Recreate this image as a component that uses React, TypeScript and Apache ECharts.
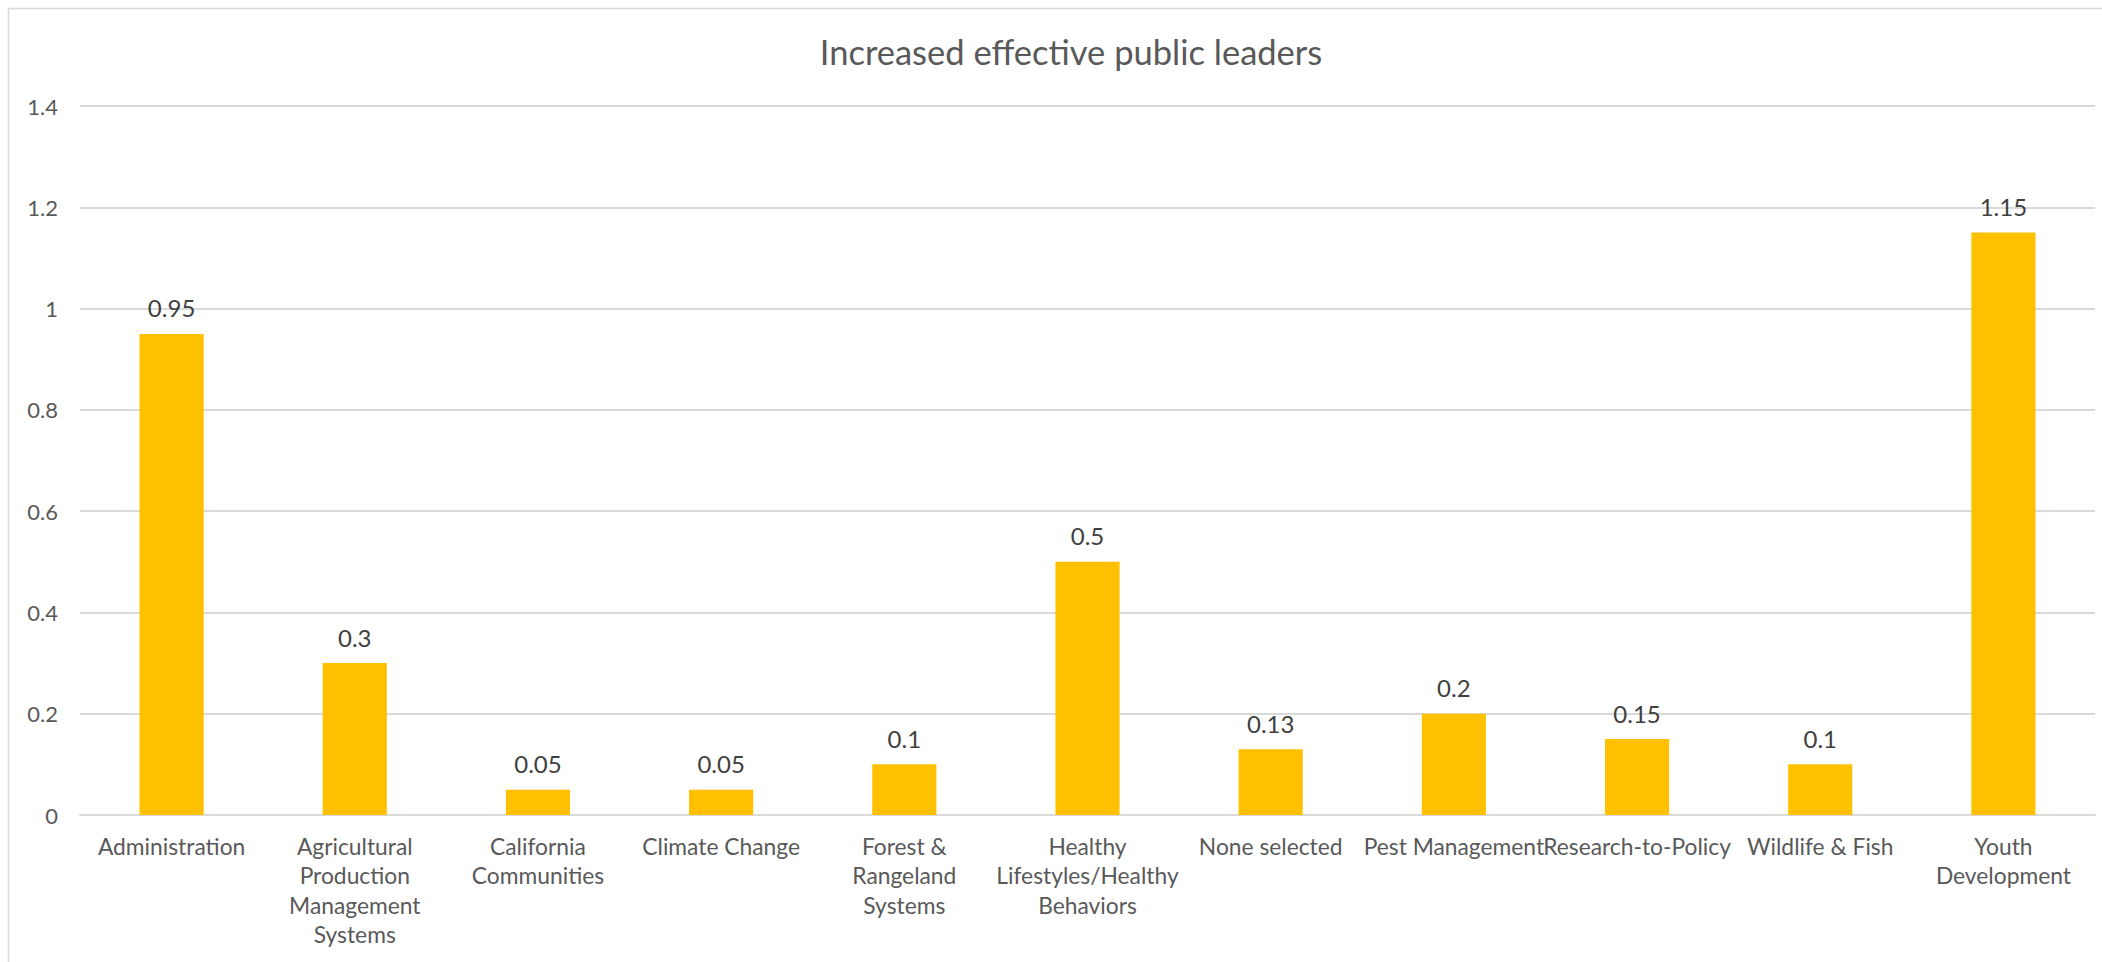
import React, { useEffect, useRef } from "react";
import * as echarts from "echarts";

const title = "Increased effective public leaders";
const categories = [
  "Administration",
  "Agricultural\nProduction\nManagement\nSystems",
  "California\nCommunities",
  "Climate Change",
  "Forest &\nRangeland\nSystems",
  "Healthy\nLifestyles/Healthy\nBehaviors",
  "None selected",
  "Pest Management",
  "Research-to-Policy",
  "Wildlife & Fish",
  "Youth\nDevelopment",
];
const values = [0.95, 0.3, 0.05, 0.05, 0.1, 0.5, 0.13, 0.2, 0.15, 0.1, 1.15];
const yMin = 0;
const yMax = 1.4;
const yInterval = 0.2;

const FONT = "Lato, 'Liberation Sans', sans-serif";

export default function App() {
  const ref = useRef<HTMLDivElement>(null);
  useEffect(() => {
    if (!ref.current) return;
    const chart = echarts.init(ref.current, null, { renderer: "svg" });
    chart.setOption({
      animation: false,
      backgroundColor: "#ffffff",
      textStyle: { fontFamily: FONT },
      title: {
        text: title,
        left: 1066,
        top: 29,
        textAlign: "center",
        textStyle: { fontFamily: FONT, fontSize: 34.5, fontWeight: "normal", color: "#595959" },
      },
      graphic: [
        {
          type: "rect",
          shape: { x: 8.5, y: 8.5, width: 2200, height: 1000 },
          style: { fill: "none", stroke: "#D9D9D9", lineWidth: 1.5 },
          silent: true,
        },
      ],
      grid: { left: 80, right: 7, top: 106, bottom: 147, containLabel: false },
      xAxis: {
        type: "category",
        data: categories,
        axisLine: { show: true, lineStyle: { color: "#D9D9D9", width: 2 } },
        axisTick: { show: false },
        axisLabel: {
          interval: 0,
          color: "#595959",
          fontFamily: FONT,
          fontSize: 22.8,
          lineHeight: 29.5,
          margin: 16,
        },
      },
      yAxis: {
        type: "value",
        min: yMin,
        max: yMax,
        interval: yInterval,
        axisLine: { show: false },
        axisTick: { show: false },
        splitLine: { lineStyle: { color: "#D9D9D9", width: 2 } },
        axisLabel: {
          color: "#595959",
          fontFamily: FONT,
          fontSize: 22,
          margin: 22,
          formatter: (v: number) => String(Math.round(v * 10) / 10),
        },
      },
      series: [
        {
          type: "bar",
          data: values,
          barWidth: "35%",
          itemStyle: { color: "#FFC000" },
          label: {
            show: true,
            position: "top",
            distance: 14,
            color: "#404040",
            fontFamily: FONT,
            fontSize: 24,
          },
        },
      ],
    });
    return () => chart.dispose();
  }, []);
  return (
    <div
      ref={ref}
      style={{ position: "fixed", left: 0, top: 0, width: 2102, height: 962 }}
    />
  );
}
